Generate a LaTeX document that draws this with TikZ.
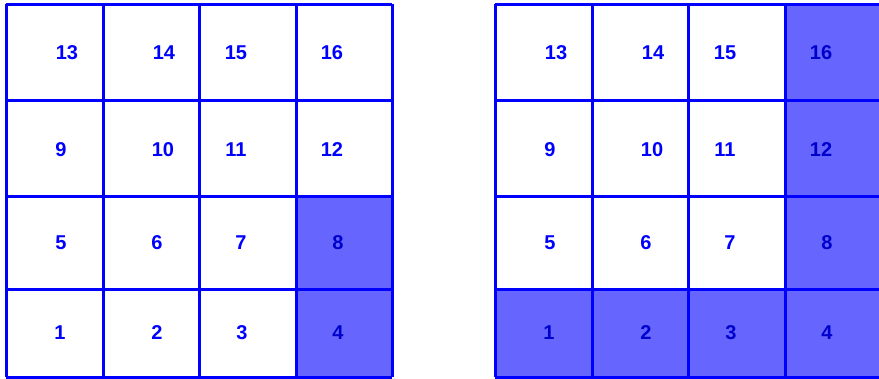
\documentclass[tikz,border=0pt]{standalone}
\usepackage{fontspec}
\setmainfont{Liberation Sans}

\tikzset{
  gridline/.style={draw=blue, line width=3pt},
  marked/.style={fill=blue!60},
  num/.style={text=blue, font=\bfseries\fontsize{20}{24}\selectfont},
  numdark/.style={num, text=blue!80!black}
}

\begin{document}
\begin{tikzpicture}[x=1pt,y=-1pt]
\useasboundingbox (0,0) rectangle (879,378);

% shaded cells, left board
\fill[marked] (296,196) rectangle (392,377);
% shaded cells, right board
\fill[marked] (785,4) rectangle (881,377);
\fill[marked] (495,289) rectangle (785,377);

% both boards
\foreach \ox in {0,489} {
  \foreach \cx in {6,103,199,296,392}
    \draw[gridline] (\ox+\cx,4) -- (\ox+\cx,377);
  \foreach \cy in {4,100,196,289,377}
    \draw[gridline] (\ox+6,\cy) -- (\ox+392,\cy);
}

% numbers, left board
\foreach \n/\x/\y in {13/67/53, 14/164/53, 15/236/53, 16/332/53,
                      9/61/150, 10/163/150, 11/236/150, 12/332/150,
                      5/61/243, 6/157/243, 7/241/243,
                      1/60/333, 2/157/333, 3/242/333}
  \node[num] (l\n) at (\x,\y) {\n};
\foreach \n/\x/\y in {8/338/243, 4/338/333}
  \node[numdark] (l\n) at (\x,\y) {\n};

% numbers, right board
\foreach \n/\x/\y in {13/67/53, 14/164/53, 15/236/53,
                      9/61/150, 10/163/150, 11/236/150,
                      5/61/243, 6/157/243, 7/241/243}
  \node[num] (r\n) at (\x+489,\y) {\n};
\foreach \n/\x/\y in {16/332/53, 12/332/150, 8/338/243,
                      1/60/333, 2/157/333, 3/242/333, 4/338/333}
  \node[numdark] (r\n) at (\x+489,\y) {\n};
\end{tikzpicture}
\end{document}
